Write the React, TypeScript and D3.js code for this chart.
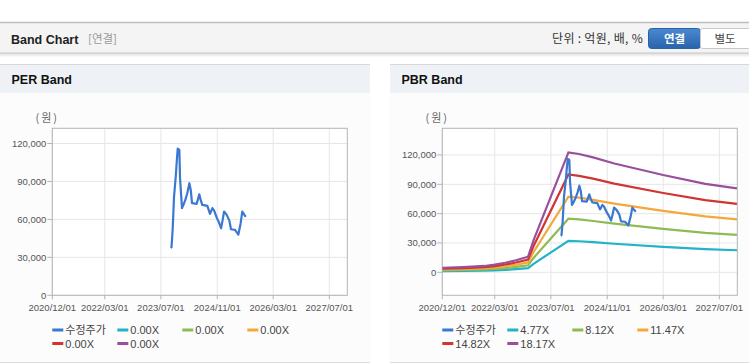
import React from "react";
import * as d3 from "d3";

const W = 749;
const H = 364;

const X_START = "2020-12-01";
const X_END = "2027-12-04";
const xTickDates = ["2020-12-01", "2022-03-01", "2023-07-01", "2024-11-01", "2026-03-01", "2027-07-01"];
const yTicks = [0, 30000, 60000, 90000, 120000];

const priceDates = [
  "2023-09-24", "2023-10-01", "2023-10-11", "2023-10-23", "2023-11-07", "2023-11-15", "2023-11-24",
  "2023-12-08", "2023-12-14", "2023-12-31", "2024-01-15", "2024-01-29", "2024-02-15", "2024-03-04",
  "2024-03-16", "2024-03-27", "2024-05-07", "2024-05-29", "2024-06-10", "2024-06-24", "2024-08-07",
  "2024-08-30", "2024-09-20", "2024-10-05", "2024-10-29", "2024-11-14", "2024-12-04", "2024-12-18",
  "2024-12-30", "2025-01-22", "2025-02-14", "2025-02-28", "2025-04-04", "2025-05-03", "2025-05-23",
  "2025-06-06", "2025-07-06",
];
const priceValues = [
  37400, 38000, 51600, 78000, 93900, 105000, 116000,
  115000, 92600, 68900, 72000, 75400, 80700, 88600,
  83300, 72800, 72300, 79800, 75400, 71500, 70700,
  64400, 68900, 67000, 61000, 58000, 53000, 59600,
  66200, 63600, 59000, 52200, 51700, 48000, 57000,
  66200, 62000,
];

const bandDates = [
  "2020-12-01", "2021-06-01", "2021-12-01", "2022-03-01", "2022-06-01", "2022-09-01", "2022-12-15",
  "2023-02-01", "2023-11-30", "2024-03-01", "2024-07-01", "2025-01-01", "2026-03-01", "2027-03-01",
  "2027-12-01",
];
const band477 = [1180, 1390, 1710, 2050, 2570, 3230, 4200, 8660, 32210, 31770, 30850, 29220, 26120, 23760, 22550];
const band812 = [2010, 2370, 2910, 3490, 4380, 5500, 7150, 14750, 54830, 54070, 52510, 49740, 44470, 40440, 38390];
const band1147 = [2840, 3350, 4100, 4920, 6190, 7760, 10100, 20830, 77460, 76380, 74170, 70260, 62810, 57130, 54230];
const band1482 = [3670, 4320, 5300, 6360, 7990, 10030, 13050, 26920, 100080, 98690, 95840, 90780, 81160, 73820, 70060];
const band1817 = [4500, 5300, 6500, 7800, 9800, 12300, 16000, 33000, 122700, 121000, 117500, 111300, 99500, 90500, 85900];

const perLegend = ["수정주가", "0.00X", "0.00X", "0.00X", "0.00X", "0.00X"];
const pbrLegend = ["수정주가", "4.77X", "8.12X", "11.47X", "14.82X", "18.17X"];
const seriesColors = ["#3a78d2", "#22b3c6", "#8fbb52", "#f3a83b", "#d23431", "#9a4f9c"];

const FONT = '"Liberation Sans", Arial, "Noto Sans CJK KR", sans-serif';
const KFONT = '"Noto Sans CJK KR", "Liberation Sans", sans-serif';

const parse = d3.timeParse("%Y-%m-%d");

type Pt = [Date, number];

function Chart(props: {
  id: string;
  left: number;
  right: number;
  yDomain: [number, number];
  bands: number[][];
  labels: string[];
}) {
  const { id, left, right, yDomain, bands, labels } = props;
  const top = 128.3;
  const bottom = 295.3;
  const x = d3.scaleTime().domain([parse(X_START)!, parse(X_END)!]).range([left, right]);
  const y = d3.scaleLinear().domain(yDomain).range([bottom, top]);
  const line = d3
    .line<Pt>()
    .x((d) => x(d[0]))
    .y((d) => y(d[1]));
  const pricePts: Pt[] = priceDates.map((d, i) => [parse(d)!, priceValues[i]]);
  const bandPaths = bands.map((vals) => line(bandDates.map((d, i) => [parse(d)!, vals[i]] as Pt)) || "");

  return (
    <g>
      <defs>
        <clipPath id={id}>
          <rect x={left} y={top} width={right - left} height={bottom - top} />
        </clipPath>
      </defs>
      <rect x={left} y={top} width={right - left} height={bottom - top} fill="#ffffff" />
      {yTicks.map((t) => (
        <line key={"gy" + t} x1={left} x2={right} y1={y(t)} y2={y(t)} stroke="#e6e6e6" strokeWidth={1} />
      ))}
      {xTickDates.map((d) => (
        <line key={"gx" + d} x1={x(parse(d)!)} x2={x(parse(d)!)} y1={top} y2={bottom} stroke="#e6e6e6" strokeWidth={1} />
      ))}
      <rect x={left} y={top} width={right - left} height={bottom - top} fill="none" stroke="#b4b4b4" strokeWidth={1} />
      {yTicks.map((t) => (
        <g key={"ty" + t}>
          <line x1={left - 5} x2={left} y1={y(t)} y2={y(t)} stroke="#b4b4b4" />
          <text x={left - 6} y={y(t) + 3.5} textAnchor="end" fontSize={9.5} fill="#555" fontFamily={FONT}>
            {d3.format(",")(t)}
          </text>
        </g>
      ))}
      {xTickDates.map((d) => (
        <g key={"tx" + d}>
          <line x1={x(parse(d)!)} x2={x(parse(d)!)} y1={bottom} y2={bottom + 4} stroke="#b4b4b4" />
          <text x={x(parse(d)!)} y={310.5} textAnchor="middle" fontSize={9.5} fill="#555" fontFamily={FONT}>
            {d.replace(/-/g, "/")}
          </text>
        </g>
      ))}
      <text x={left - 5} y={121.5} fontSize={11} fill="#666" fontFamily={KFONT} textAnchor="middle" letterSpacing={2}>
        (원)
      </text>
      <g clipPath={`url(#${id})`}>
        {bandPaths.map((p, i) => (
          <path key={"b" + i} d={p} fill="none" stroke={seriesColors[i + 1]} strokeWidth={2.2} />
        ))}
        <path d={line(pricePts) || ""} fill="none" stroke={seriesColors[0]} strokeWidth={2.2} strokeLinejoin="round" />
      </g>
      {labels.map((lab, i) => {
        const lx = left + (i % 4) * 65;
        const ly = 330 + Math.floor(i / 4) * 13.5;
        return (
          <g key={"lg" + i}>
            <line x1={lx} x2={lx + 11} y1={ly} y2={ly} stroke={seriesColors[i]} strokeWidth={3} />
            <text x={lx + 13} y={ly + 4} fontSize={11} fill="#444" fontFamily={i === 0 ? KFONT : FONT}>
              {lab}
            </text>
          </g>
        );
      })}
    </g>
  );
}

export default function App() {
  return (
    <svg
      width={W}
      height={H}
      style={{ position: "absolute", left: 0, top: 0, display: "block" }}
      xmlns="http://www.w3.org/2000/svg"
    >
      <defs>
        <linearGradient id="btnBlue" x1="0" y1="0" x2="0" y2="1">
          <stop offset="0" stopColor="#4a8ad3" />
          <stop offset="1" stopColor="#2863ab" />
        </linearGradient>
        <linearGradient id="shadow" x1="0" y1="0" x2="0" y2="1">
          <stop offset="0" stopColor="#000" stopOpacity={0.12} />
          <stop offset="1" stopColor="#000" stopOpacity={0} />
        </linearGradient>
      </defs>
      <rect x={0} y={0} width={W} height={H} fill="#ffffff" />
      {/* top header */}
      <rect x={0} y={22} width={W} height={31} fill="#f4f4f4" />
      <line x1={0} x2={W} y1={22.5} y2={22.5} stroke="#bdbdbd" strokeWidth={1.5} />
      <line x1={0} x2={W} y1={53} y2={53} stroke="#c8c8c8" strokeWidth={1} />
      <rect x={0} y={53.5} width={W} height={4} fill="url(#shadow)" />
      <text x={11} y={43.5} fontSize={12.5} fontWeight="bold" fill="#222" fontFamily={FONT}>
        Band Chart
      </text>
      <text x={88} y={43} fontSize={11.5} fill="#999" fontFamily={KFONT}>
        [연결]
      </text>
      <text x={643} y={43} fontSize={12} fill="#333" textAnchor="end" fontFamily={KFONT} letterSpacing={0.3}>
        단위 : 억원, 배, %
      </text>
      <rect x={648.5} y={28.5} width={52} height={20} rx={3} fill="url(#btnBlue)" stroke="#2a62a6" />
      <rect x={700.5} y={28.5} width={50} height={20} rx={2} fill="#ffffff" stroke="#c8c8c8" />
      <text x={674.5} y={43} fontSize={11.5} fontWeight="bold" fill="#ffffff" textAnchor="middle" fontFamily={KFONT}>
        연결
      </text>
      <text x={725} y={43} fontSize={11.5} fill="#444" textAnchor="middle" fontFamily={KFONT}>
        별도
      </text>

      {/* panels */}
      <rect x={0} y={64} width={370} height={298} fill="#fcfcfc" />
      <rect x={390} y={64} width={359} height={298} fill="#fcfcfc" />
      <rect x={0} y={64} width={370} height={29} fill="#eef2f7" />
      <rect x={390} y={64} width={359} height={29} fill="#eef2f7" />
      <line x1={0} x2={370} y1={64.5} y2={64.5} stroke="#d8d8d8" />
      <line x1={390} x2={W} y1={64.5} y2={64.5} stroke="#d8d8d8" />
      <line x1={0} x2={370} y1={362.5} y2={362.5} stroke="#dcdcdc" />
      <line x1={390} x2={W} y1={362.5} y2={362.5} stroke="#dcdcdc" />
      <text x={11.5} y={84} fontSize={12.5} fontWeight="bold" fill="#111" fontFamily={FONT}>
        PER Band
      </text>
      <text x={401.5} y={84} fontSize={12.5} fontWeight="bold" fill="#111" fontFamily={FONT}>
        PBR Band
      </text>

      <Chart id="clipPer" left={52.3} right={347.3} yDomain={[0, 132000]} bands={[]} labels={perLegend} />
      <Chart
        id="clipPbr"
        left={442.3}
        right={737.3}
        yDomain={[-23500, 147300]}
        bands={[band477, band812, band1147, band1482, band1817]}
        labels={pbrLegend}
      />
    </svg>
  );
}
